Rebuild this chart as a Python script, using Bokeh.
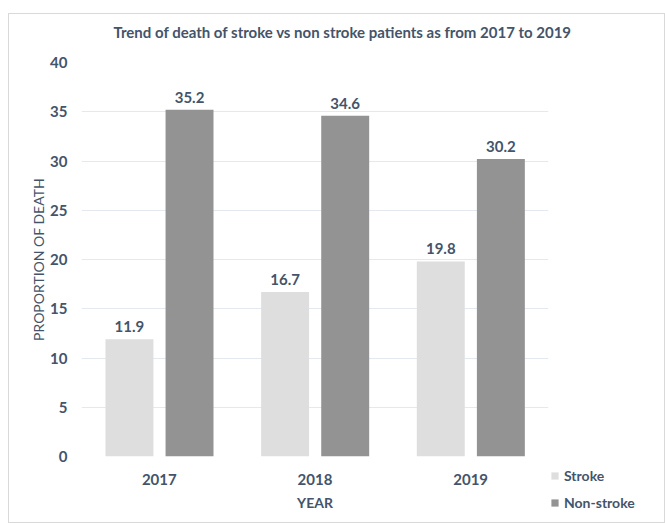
from bokeh.plotting import figure
from bokeh.models import ColumnDataSource, FactorRange, Range1d, Legend, LegendItem, LabelSet
from bokeh.layouts import column, row
from bokeh.transform import dodge
from bokeh.core.properties import value
from bokeh.embed import file_html
from bokeh.resources import INLINE

years = ["2017", "2018", "2019"]
stroke = [11.9, 16.7, 19.8]
non_stroke = [35.2, 34.6, 30.2]
y_ticks = [0, 5, 10, 15, 20, 25, 30, 35, 40]
series_names = ["Stroke", "Non-stroke"]

FONT = "Lato"
TXT = "#44546a"
C_STROKE = "#dedede"
C_NON = "#939393"
series_colors = [C_STROKE, C_NON]

# ---- title strip ----
tf = figure(width=655, height=40, output_backend="svg", toolbar_location=None,
            x_axis_location=None, y_axis_location=None,
            min_border_left=0, min_border_right=0, min_border_top=26, min_border_bottom=0)
tf.outline_line_color = None
tf.grid.grid_line_color = None
tf.title.text = "Trend of death of stroke vs non stroke patients as from 2017 to 2019"
tf.title.text_font = FONT
tf.title.text_font_size = "15px"
tf.title.text_font_style = "bold"
tf.title.text_color = TXT
tf.title.align = "left"
tf.title.offset = 104
tf.title.standoff = 0

# ---- main chart ----
src = ColumnDataSource(dict(
    year=years, stroke=stroke, non_stroke=non_stroke,
    s_lab=[f"{v:.1f}" for v in stroke], n_lab=[f"{v:.1f}" for v in non_stroke],
))

p = figure(width=540, height=468, x_range=FactorRange(factors=years, range_padding=0),
           y_range=Range1d(0, 40), output_backend="svg", toolbar_location=None,
           min_border_left=72, min_border_right=1, min_border_top=8, min_border_bottom=66)
p.outline_line_color = None

p.vbar(x=dodge("year", -0.192, range=p.x_range), top="stroke", width=0.308,
       source=src, fill_color=C_STROKE, line_color=None)
p.vbar(x=dodge("year", 0.194, range=p.x_range), top="non_stroke", width=0.308,
       source=src, fill_color=C_NON, line_color=None)

for xoff, col, lab in [(-0.192, "stroke", "s_lab"), (0.194, "non_stroke", "n_lab")]:
    ls = LabelSet(x=dodge("year", xoff, range=p.x_range), y=col, text=lab, source=src,
                  text_align="center", text_baseline="bottom", y_offset=7,
                  text_font=value(FONT), text_font_size=value("15px"),
                  text_font_style="bold", text_color=TXT)
    p.add_layout(ls)

p.yaxis.ticker = y_ticks
p.xgrid.grid_line_color = None
p.ygrid.grid_line_color = "#e4e9f0"
p.ygrid.grid_line_width = 1

for ax in (p.xaxis[0], p.yaxis[0]):
    ax.axis_line_color = None
    ax.major_tick_line_color = None
    ax.minor_tick_line_color = None
    ax.major_label_text_font = FONT
    ax.major_label_text_font_style = "bold"
    ax.major_label_text_color = TXT
    ax.axis_label_text_font = FONT
    ax.axis_label_text_color = TXT

p.yaxis.major_label_text_font_size = "15px"
p.yaxis.major_label_standoff = 8
p.yaxis.axis_label = "PROPORTION OF DEATH"
p.yaxis.axis_label_text_font_size = "14px"
p.yaxis.axis_label_text_font_style = "normal"
p.yaxis.axis_label_standoff = 0

p.xaxis.major_label_text_font_size = "15px"
p.xaxis.major_label_standoff = 11
p.xaxis.axis_label = "YEAR"
p.xaxis.axis_label_text_font_size = "14px"
p.xaxis.axis_label_text_font_style = "bold"
p.xaxis.axis_label_standoff = 6

# ---- legend strip ----
lf = figure(width=115, height=468, output_backend="svg", toolbar_location=None,
            x_axis_location=None, y_axis_location=None,
            min_border_left=0, min_border_right=0, min_border_top=0, min_border_bottom=0)
lf.outline_line_color = None
lf.grid.grid_line_color = None
for fig in (tf, p, lf):
    if "frame_align" in fig.properties():
        fig.frame_align = False
leg_src = ColumnDataSource(dict(name=series_names, color=series_colors,
                                x=[0] * len(series_names), top=[0] * len(series_names)))
g = lf.vbar(x="x", top="top", width=0, source=leg_src, fill_color="color", line_color=None)

legend = Legend(items=[LegendItem(label=series_names[i], renderers=[g], index=i)
                       for i in range(len(series_names))],
                location=(1, 10), orientation="vertical",
                glyph_width=9, glyph_height=9, label_standoff=5, spacing=7,
                label_height=20, padding=0, margin=0,
                border_line_color=None, background_fill_alpha=0,
                label_text_font=FONT, label_text_font_size="14px",
                label_text_font_style="bold", label_text_color=TXT)
lf.add_layout(legend, "center")

layout = column(tf, row(p, lf))
layout.styles = {"border": "1px solid #d9d9d9", "margin-top": "13px", "margin-left": "8px"}

open("out.html", "w").write(file_html(layout, INLINE))
